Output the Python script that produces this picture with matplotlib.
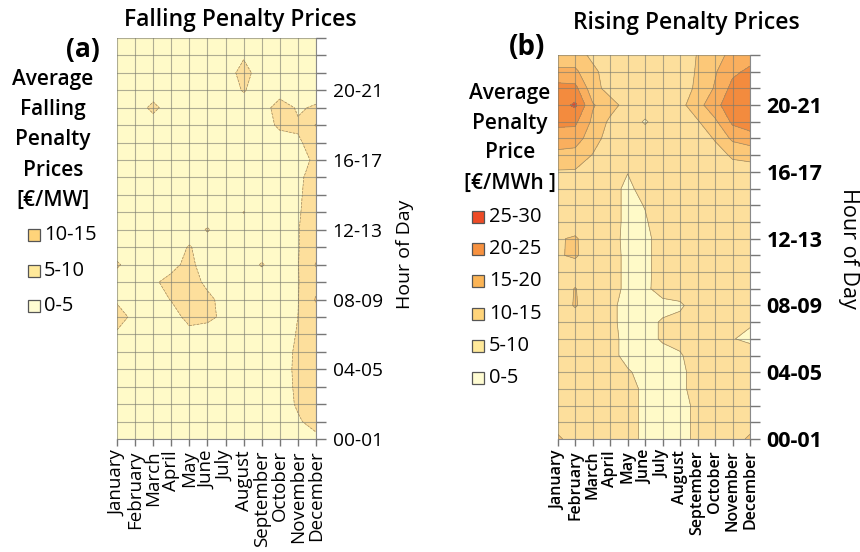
import numpy as np
import matplotlib.pyplot as plt
from matplotlib.patches import Rectangle

plt.rcParams['font.family'] = ['Open Sans', 'DejaVu Sans']

months = ['January', 'February', 'March', 'April', 'May', 'June', 'July',
          'August', 'September', 'October', 'November', 'December']
hour_labels = ['00-01', '04-05', '08-09', '12-13', '16-17', '20-21']

# rows = hour of day (00-01 ... 23-24), columns = month (Jan ... Dec)
falling = [
    [3, 3, 3, 3, 3, 3, 3, 3, 3, 3, 3, 4],
    [3, 3, 3, 3, 3, 3, 3, 3, 3, 3, 4.5, 6.5],
    [3, 3, 3, 3, 3, 3, 3, 3, 3, 3, 5.5, 7],
    [3, 3, 3, 3, 3, 3, 3, 3, 3, 3, 5.8, 7.5],
    [3, 3, 3, 3, 3, 3, 3, 3, 3, 3, 6, 7.5],
    [3, 3, 3, 3, 3, 3, 3, 3, 3, 3, 5.8, 7.5],
    [4, 3, 3, 3, 3.5, 3, 3, 3, 3, 3, 5.3, 7.5],
    [8, 3, 3, 3, 6.5, 6, 4, 3, 3, 3, 5, 7.5],
    [4, 3, 3, 5.2, 7.5, 6, 3.5, 3, 3, 3, 4.8, 10.5],
    [3, 3, 4.5, 6, 7, 4, 3, 3, 3, 3, 4.8, 8],
    [5.5, 3, 3, 4, 6, 3, 3, 3, 5.3, 3, 4.8, 10.3],
    [3, 3, 3, 3, 5.3, 3, 3, 3, 3, 3, 4.8, 7.5],
    [3, 3, 3, 3, 3, 5.3, 3, 3, 3, 3, 4.8, 7.5],
    [3, 3, 3, 3, 3, 3, 3, 5.1, 3, 3, 4.5, 7.5],
    [3, 3, 3, 3, 3, 3, 3, 3, 3, 3, 4.2, 7.5],
    [3, 3, 3, 3, 3, 3, 3, 3, 3, 3, 3.8, 7.5],
    [3, 3, 3, 3, 3, 3, 3, 3, 3, 3, 3, 6],
    [3, 3, 3, 3, 3, 3, 3, 3, 3, 3, 4.5, 6.5],
    [3, 3, 3, 3, 3, 3, 3, 3, 3, 5.8, 5.5, 10.3],
    [3, 3, 6, 3, 3, 3, 3, 3, 3, 7, 4.5, 5.5],
    [3, 3, 3, 3, 3, 3, 3, 5.3, 3, 3, 3, 3],
    [3, 3, 3, 3, 3, 3, 3, 6.5, 3, 3, 3, 3],
    [3, 3, 3, 3, 3, 3, 3, 4.5, 3, 3, 3, 3],
    [3, 3, 3, 3, 3, 3, 3, 3, 3, 3, 3, 3],
]

rising = [
    [11, 7.5, 7.5, 7.5, 7.5, 3.5, 3.5, 3.5, 6, 7.5, 7.5, 11],
    [7.5, 7.5, 7.5, 7.5, 7.5, 3.5, 3.5, 3.5, 6, 7.5, 7.5, 7.5],
    [7.5, 7.5, 7.5, 7.5, 7.5, 3.5, 3.5, 3.5, 6, 7.5, 7.5, 7.5],
    [7.5, 7.5, 7.5, 7.5, 7.5, 3.5, 3.5, 3.5, 7.5, 7.5, 7.5, 7.5],
    [7.5, 7.5, 7.5, 7.5, 5.5, 3.5, 3.5, 3.5, 7.5, 7.5, 7.5, 7.5],
    [7.5, 7.5, 7.5, 6.5, 3.5, 3.5, 3.5, 4.5, 7.5, 7.5, 7.5, 7.5],
    [7.5, 7.5, 7.5, 6.5, 3.5, 3.5, 5.5, 6.5, 7.5, 7.5, 5.2, 4],
    [7.5, 7.5, 7.5, 6, 3.5, 3.5, 5.5, 6.5, 7.5, 7.5, 7.5, 5.5],
    [7.5, 10.4, 7.5, 6, 3.5, 3.5, 3.5, 4.2, 7.5, 7.5, 7.5, 7.5],
    [7.5, 10.2, 7.5, 7.5, 3.5, 4, 7, 7.5, 7.5, 7.5, 7.5, 7.5],
    [7.5, 7.5, 7.5, 7.5, 3.5, 3.5, 7.5, 7.5, 7.5, 7.5, 7.5, 7.5],
    [9.6, 10.6, 7.5, 7.5, 3.5, 3.5, 7.5, 7.5, 7.5, 7.5, 7.5, 7.5],
    [9.6, 10.5, 7.5, 7, 3.5, 3.5, 7.5, 7.5, 7.5, 7.5, 7.5, 7.5],
    [7.5, 7.5, 7.5, 7.5, 3.5, 4.5, 7.5, 7.5, 7.5, 7.5, 7.5, 7.5],
    [7.5, 7.5, 7.5, 7.5, 3.5, 5.2, 7.5, 7.5, 7.5, 7.5, 7.5, 7.5],
    [7.5, 7.5, 7.5, 7.5, 3.5, 7.5, 7.5, 7.5, 7.5, 7.5, 7.5, 7.5],
    [9.5, 9.5, 8.5, 7.5, 5.2, 7.5, 7.5, 7.5, 7.5, 8, 8.5, 8.5],
    [14, 13, 9.8, 7.5, 7.5, 7.5, 7.5, 7.5, 7.5, 8.5, 10.5, 11],
    [17, 17.5, 12, 8, 7.5, 7.5, 7.5, 7.5, 8, 10.3, 16, 18],
    [21.5, 21, 14, 9, 7.5, 4.5, 7.5, 7.5, 9.5, 14, 21, 22.5],
    [23, 25.8, 15.5, 12, 8, 7.5, 7.5, 8.5, 13, 18.5, 23, 24.5],
    [22, 21.5, 12, 8, 7.5, 7.5, 7.5, 7.5, 11, 15.5, 21.5, 23.5],
    [16, 16, 11, 8, 7.5, 7.5, 7.5, 7.5, 10.5, 14.5, 19, 21],
    [12, 12, 9, 7.5, 7.5, 7.5, 7.5, 7.5, 10.2, 13, 16.5, 18],
]

levels = [0, 5, 10, 15, 20, 25, 30]
band_labels = ['0-5', '5-10', '10-15', '15-20', '20-25', '25-30']
fill_colors = ['#FFFAC8', '#FDDF9C', '#FCC878', '#FAAF5E', '#F38B3E', '#E84A2A']
legend_colors = ['#FFFCD2', '#FFE99A', '#FFD47A', '#FBB455', '#F7913F', '#EE4B26']

W, H = 860, 552
fig = plt.figure(figsize=(W / 100, H / 100), dpi=100)


def fx(px):
    return px / W


def fy(py):
    return 1 - py / H


def draw_panel(rect, values, month_size, month_weight, hour_size, hour_weight, linestyle):
    ax = fig.add_axes(rect)
    z = np.array(values)
    x = np.arange(len(months))
    y = np.arange(z.shape[0])
    ax.contourf(x, y, z, levels=levels, colors=fill_colors)
    ax.contour(x, y, z, levels=levels[1:-1], colors='#9a8a66',
               linewidths=0.5, linestyles=linestyle)
    ax.set_xlim(0, 11)
    ax.set_ylim(0, 23)
    ax.set_xticks(x)
    ax.set_xticklabels(months, rotation=90, fontsize=month_size, fontweight=month_weight)
    ax.set_yticks(np.arange(0, 24, 4))
    ax.set_yticks(y, minor=True)
    ax.set_yticklabels(hour_labels, fontsize=hour_size, fontweight=hour_weight)
    ax.yaxis.tick_right()
    ax.tick_params(axis='y', which='both', length=7, width=1, color='#777777', pad=5)
    ax.tick_params(axis='x', length=5, width=1, color='#777777', pad=3)
    ax.grid(True, which='both', color='#7a7a6e', linewidth=0.8, alpha=0.6)
    ax.set_axisbelow(False)
    for s in ['top', 'left']:
        ax.spines[s].set_visible(False)
    for s in ['right', 'bottom']:
        ax.spines[s].set_color('#8a8a8a')
    return ax


# (a) falling
draw_panel([fx(117), fy(439), fx(316) - fx(117), fy(38) - fy(439)], falling,
           13.5, 'normal', 13.8, 'normal', '--')
fig.text(fx(240), fy(20), 'Falling Penalty Prices', fontsize=16.5, fontweight='semibold',
         ha='center', va='center')
fig.text(fx(83), fy(50), '(a)', fontsize=19, fontweight='bold', ha='center', va='center')
fig.text(fx(405), fy(254), 'Hour of Day', fontsize=14, rotation=90, ha='center', va='center')
for i, line in enumerate(['Average', 'Falling', 'Penalty', 'Prices', '[€/MW]']):
    fig.text(fx(53), fy(80 + 30 * i), line, fontsize=15, fontweight='semibold',
             ha='center', va='center')
for i, k in enumerate([2, 1, 0]):
    yc = 235 + 35.5 * i
    fig.patches.append(Rectangle((fx(28), fy(yc + 6)), 12 / W, 12 / H,
                                 transform=fig.transFigure, facecolor=legend_colors[k],
                                 edgecolor='#555555', linewidth=0.9))
    fig.text(fx(44), fy(yc), band_labels[k], fontsize=14.5, ha='left', va='center')

# (b) rising
draw_panel([fx(557.7), fy(439), fx(750) - fx(557.7), fy(55) - fy(439)], rising,
           11.5, 'semibold', 15.5, 'bold', '-')
fig.text(fx(686), fy(23), 'Rising Penalty Prices', fontsize=16.5, fontweight='semibold',
         ha='center', va='center')
fig.text(fx(527), fy(48), '(b)', fontsize=20, fontweight='bold', ha='center', va='center')
fig.text(fx(848), fy(248), 'Hour of Day', fontsize=15.5, rotation=270, ha='center', va='center')
for i, line in enumerate(['Average', 'Penalty', 'Price', '[€/MWh ]']):
    fig.text(fx(510), fy(93 + 30 * i), line, fontsize=15, fontweight='semibold',
             ha='center', va='center')
for i, k in enumerate([5, 4, 3, 2, 1, 0]):
    yc = 217 + 32.2 * i
    fig.patches.append(Rectangle((fx(472), fy(yc + 6)), 12 / W, 12 / H,
                                 transform=fig.transFigure, facecolor=legend_colors[k],
                                 edgecolor='#555555', linewidth=0.9))
    fig.text(fx(489), fy(yc), band_labels[k], fontsize=14.5, ha='left', va='center')

fig.savefig('out.png', dpi=100)
